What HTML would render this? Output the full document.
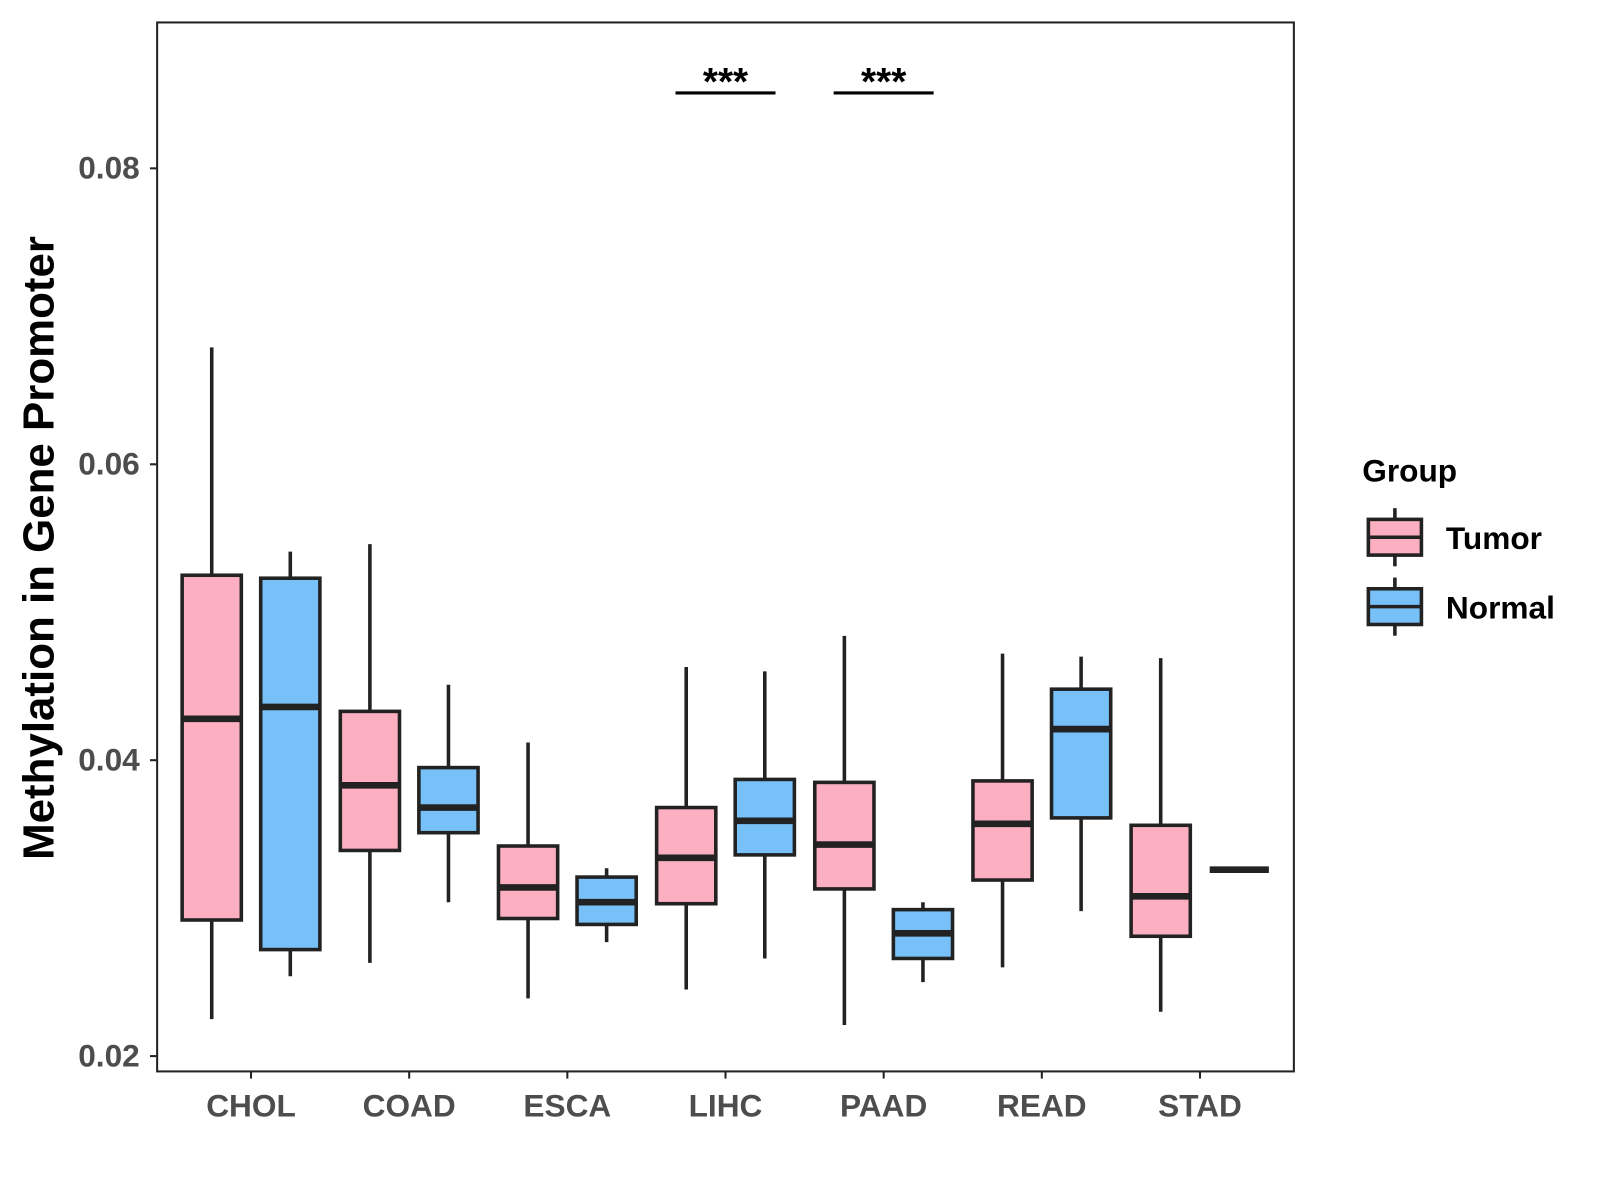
<!DOCTYPE html>
<html><head><meta charset="utf-8"><style>
html,body{margin:0;padding:0;background:#fff;}
svg{display:block;font-family:"Liberation Sans",Arial,sans-serif;}
</style></head><body>
<svg id="chart" width="1600" height="1200" viewBox="0 0 1600 1200">
<rect width="1600" height="1200" fill="#fff"/>
<g transform="scale(1.0204)">
<rect x="154" y="22" width="1114" height="1028" fill="none" stroke="#222" stroke-width="2"/>
<g id="yaxis"></g>
<g id="xaxis"></g>
<g id="boxes"></g>
<g id="sig"></g>
<text x="38" y="537" transform="rotate(-90 38 537)" text-anchor="middle" dominant-baseline="central" font-weight="bold" font-size="43" fill="#000">Methylation in Gene Promoter</text>
<g>
<text x="1335" y="472" font-weight="bold" font-size="31" fill="#000">Group</text>
<g>
<line x1="1367" y1="498" x2="1367" y2="555" stroke="#222" stroke-width="3.5"/>
<rect x="1341" y="509" width="52" height="35" fill="#fbafc0" stroke="#222" stroke-width="3.5"/>
<line x1="1341" y1="526.5" x2="1393" y2="526.5" stroke="#222" stroke-width="3.5"/>
<text x="1417" y="538" font-weight="bold" font-size="31" fill="#000">Tumor</text>
</g>
<g>
<line x1="1367" y1="566" x2="1367" y2="623" stroke="#222" stroke-width="3.5"/>
<rect x="1341" y="577" width="52" height="35" fill="#78c1f8" stroke="#222" stroke-width="3.5"/>
<line x1="1341" y1="594.5" x2="1393" y2="594.5" stroke="#222" stroke-width="3.5"/>
<text x="1417" y="606" font-weight="bold" font-size="31" fill="#000">Normal</text>
</g>
</g>
</g>
</svg>
<script>
const categories=["CHOL","COAD","ESCA","LIHC","PAAD","READ","STAD"];
// [low, q1, median, q3, high]
const tumorStats=[[0.0225,0.0292,0.0428,0.0525,0.0679],[0.0263,0.0339,0.0383,0.0433,0.0546],[0.0239,0.0293,0.0314,0.0342,0.0412],[0.0245,0.0303,0.0334,0.0368,0.0463],[0.0221,0.0313,0.0343,0.0385,0.0484],[0.0260,0.0319,0.0357,0.0386,0.0472],[0.0230,0.0281,0.0308,0.0356,0.0469]];
const normalStats=[[0.0254,0.0272,0.0436,0.0523,0.0541],[0.0304,0.0351,0.0368,0.0395,0.0451],[0.0277,0.0289,0.0304,0.0321,0.0327],[0.0266,0.0336,0.0359,0.0387,0.0460],[0.0250,0.0266,0.0283,0.0299,0.0304],[0.0298,0.0361,0.0421,0.0448,0.0470],[0.0326,0.0326,0.0326,0.0326,0.0326]];
const yTicks=[0.02,0.04,0.06,0.08];
const sigCategories=["LIHC","PAAD"];
const sigLabels=["***","***"];
const sigValue=0.0851;

const NS="http://www.w3.org/2000/svg";
const y=v=>1035-(v-0.02)*14500;
const x=i=>246+i*155;
function mk(p,t,a){const e=document.createElementNS(NS,t);for(const k in a)e.setAttribute(k,a[k]);p.appendChild(e);return e;}
const ya=document.getElementById('yaxis'),xa=document.getElementById('xaxis'),bx=document.getElementById('boxes'),sg=document.getElementById('sig');
yTicks.forEach(t=>{
 mk(ya,'line',{x1:147,x2:154,y1:y(t),y2:y(t),stroke:'#222','stroke-width':2});
 const tx=mk(ya,'text',{x:137,y:y(t)+10,'text-anchor':'end','font-size':31,'font-weight':'bold',fill:'#4d4d4d'});
 tx.textContent=t.toFixed(2);
 
 
});
categories.forEach((c,i)=>{
 mk(xa,'line',{x1:x(i),x2:x(i),y1:1050,y2:1057,stroke:'#222','stroke-width':2});
 const tx=mk(xa,'text',{x:x(i),y:1094,'text-anchor':'middle','font-size':31,'font-weight':'bold',fill:'#4d4d4d'});
 tx.textContent=c;
 
 
});
function box(s,cx,fill,name){
 const g=mk(bx,'g',{});
 
 
 const w=29;
 mk(g,'line',{x1:cx,x2:cx,y1:y(s[4]),y2:y(s[0]),stroke:'#222','stroke-width':3.5});
 mk(g,'rect',{x:cx-w,y:y(s[3]),width:2*w,height:Math.max(0,y(s[1])-y(s[3])),fill:fill,stroke:'#222','stroke-width':3.5});
 mk(g,'line',{x1:cx-w,x2:cx+w,y1:y(s[2]),y2:y(s[2]),stroke:'#222','stroke-width':6.5});
}
categories.forEach((c,i)=>{
 box(tumorStats[i],x(i)-38.5,'#fbafc0','box-'+c.toLowerCase()+'-tumor');
 box(normalStats[i],x(i)+38.5,'#78c1f8','box-'+c.toLowerCase()+'-normal');
});
sigCategories.forEach((c,j)=>{
 const i=categories.indexOf(c);
 const l=mk(sg,'line',{x1:x(i)-49,x2:x(i)+49,y1:y(sigValue),y2:y(sigValue),stroke:'#000','stroke-width':3});
 
 
 const t=mk(sg,'text',{x:x(i),y:y(sigValue)+2,'text-anchor':'middle','font-size':38,'font-weight':'bold',fill:'#000'});
 t.textContent=sigLabels[j];
 
 
});
</script>
</body></html>
